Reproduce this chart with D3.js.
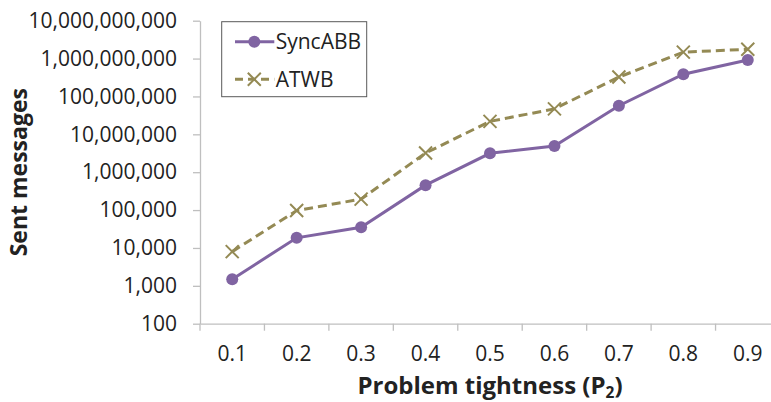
<!DOCTYPE html>
<html>
<head>
<meta charset="utf-8">
<script src="https://cdn.jsdelivr.net/npm/d3@7"></script>
<style>
  html, body { margin: 0; padding: 0; background: #fff; }
  svg { display: block; }
  text { font-family: "Open Sans", Lato, sans-serif; fill: #222; }
</style>
</head>
<body>
<svg id="chart" width="771" height="402"></svg>
<script>
// Problem tightness categories (P2)
const categories = ["0.1", "0.2", "0.3", "0.4", "0.5", "0.6", "0.7", "0.8", "0.9"];
// Sent messages per algorithm
const syncABB = [1500, 18500, 35000, 455000, 3150000, 4900000, 57000000, 385000000, 920000000];
const atwb = [8000, 97000, 195000, 3200000, 22000000, 47000000, 325000000, 1480000000, 1760000000];
// Log-axis tick values
const yTicks = [100, 1000, 10000, 100000, 1000000, 10000000, 100000000, 1000000000, 10000000000];

const series = [
  { name: "SyncABB", values: syncABB, color: "#8064A2", dash: null, marker: "circle" },
  { name: "ATWB", values: atwb, color: "#948A54", dash: "9,5", marker: "cross" }
];

const svg = d3.select("#chart");
const plot = { left: 200, right: 780, top: 20.7, bottom: 323.7 };
const axisColor = "#BFBFBF";
const font = "'Open Sans', Lato, sans-serif";
const tickFont = "21px";

const x = d3.scaleBand().domain(categories).range([plot.left, plot.right]).padding(0);
const cx = d => x(d) + x.bandwidth() / 2;
const y = d3.scaleLog().domain([100, 1e10]).range([plot.bottom, plot.top]);

// Y axis
const yAxis = svg.append("g")
  .attr("transform", `translate(${plot.left},0)`)
  .call(d3.axisLeft(y).tickValues(yTicks).tickFormat(d3.format(",")).tickSize(7).tickSizeOuter(0).tickPadding(16));
yAxis.select(".domain").attr("stroke", axisColor).attr("stroke-width", 1.3);
yAxis.selectAll(".tick line").attr("stroke", axisColor).attr("stroke-width", 1.3);
yAxis.selectAll(".tick text")
  .style("font-family", font).style("font-size", tickFont).attr("fill", "#222");

// X axis (labels centred in bands, ticks between categories)
const xAxis = svg.append("g")
  .attr("transform", `translate(0,${plot.bottom})`)
  .call(d3.axisBottom(x).tickSize(0).tickSizeOuter(0).tickPadding(22));
xAxis.select(".domain").attr("stroke", axisColor).attr("stroke-width", 1.3);
xAxis.selectAll(".tick text")
  .style("font-family", font).style("font-size", tickFont).attr("fill", "#222");
xAxis.selectAll(".boundary")
  .data(categories.map(c => x(c)).concat([x.range()[1]]))
  .enter().append("line")
  .attr("x1", d => d).attr("x2", d => d)
  .attr("y1", 0).attr("y2", 7)
  .attr("stroke", axisColor).attr("stroke-width", 1.3);

// Axis titles
svg.append("text")
  .attr("x", (plot.left + plot.right) / 2).attr("y", 394)
  .attr("text-anchor", "middle")
  .style("font-weight", "bold").style("font-size", "24px")
  .html('Problem tightness (P<tspan baseline-shift="-25%" font-size="15.5px">2</tspan>)');

svg.append("text")
  .attr("transform", `translate(27,${(plot.top + plot.bottom) / 2}) rotate(-90)`)
  .attr("text-anchor", "middle")
  .style("font-weight", "bold").style("font-size", "23px")
  .text("Sent messages");

// Lines and markers
const line = d3.line().x((d, i) => cx(categories[i])).y(d => y(d));

function drawMarker(g, type, color) {
  if (type === "circle") {
    g.append("circle").attr("r", 6).attr("fill", color);
  } else {
    const s = 6.5;
    g.append("path")
      .attr("d", `M${-s},${-s}L${s},${s}M${-s},${s}L${s},${-s}`)
      .attr("stroke", color).attr("stroke-width", 2).attr("fill", "none");
  }
}

series.forEach(s => {
  svg.append("path")
    .datum(s.values)
    .attr("d", line)
    .attr("fill", "none")
    .attr("stroke", s.color)
    .attr("stroke-width", 3)
    .attr("stroke-dasharray", s.dash);
  s.values.forEach((v, i) => {
    const g = svg.append("g").attr("transform", `translate(${cx(categories[i])},${y(v)})`);
    drawMarker(g, s.marker, s.color);
  });
});

// Legend
const legend = svg.append("g").attr("transform", "translate(221.7,21.7)");
legend.append("rect")
  .attr("width", 145).attr("height", 75)
  .attr("fill", "#fff").attr("stroke", "#595959").attr("stroke-width", 1);
series.forEach((s, i) => {
  const ly = 20 + i * 37.6;
  legend.append("line")
    .attr("x1", 13.3).attr("x2", 52.6).attr("y1", ly).attr("y2", ly)
    .attr("stroke", s.color).attr("stroke-width", 3)
    .attr("stroke-dasharray", s.dash ? "8,5" : null);
  const g = legend.append("g").attr("transform", `translate(32.6,${ly})`);
  drawMarker(g, s.marker, s.color);
  legend.append("text")
    .attr("x", 54).attr("y", ly).attr("dy", "0.36em")
    .style("font-size", tickFont)
    .text(s.name);
});
</script>
</body>
</html>
